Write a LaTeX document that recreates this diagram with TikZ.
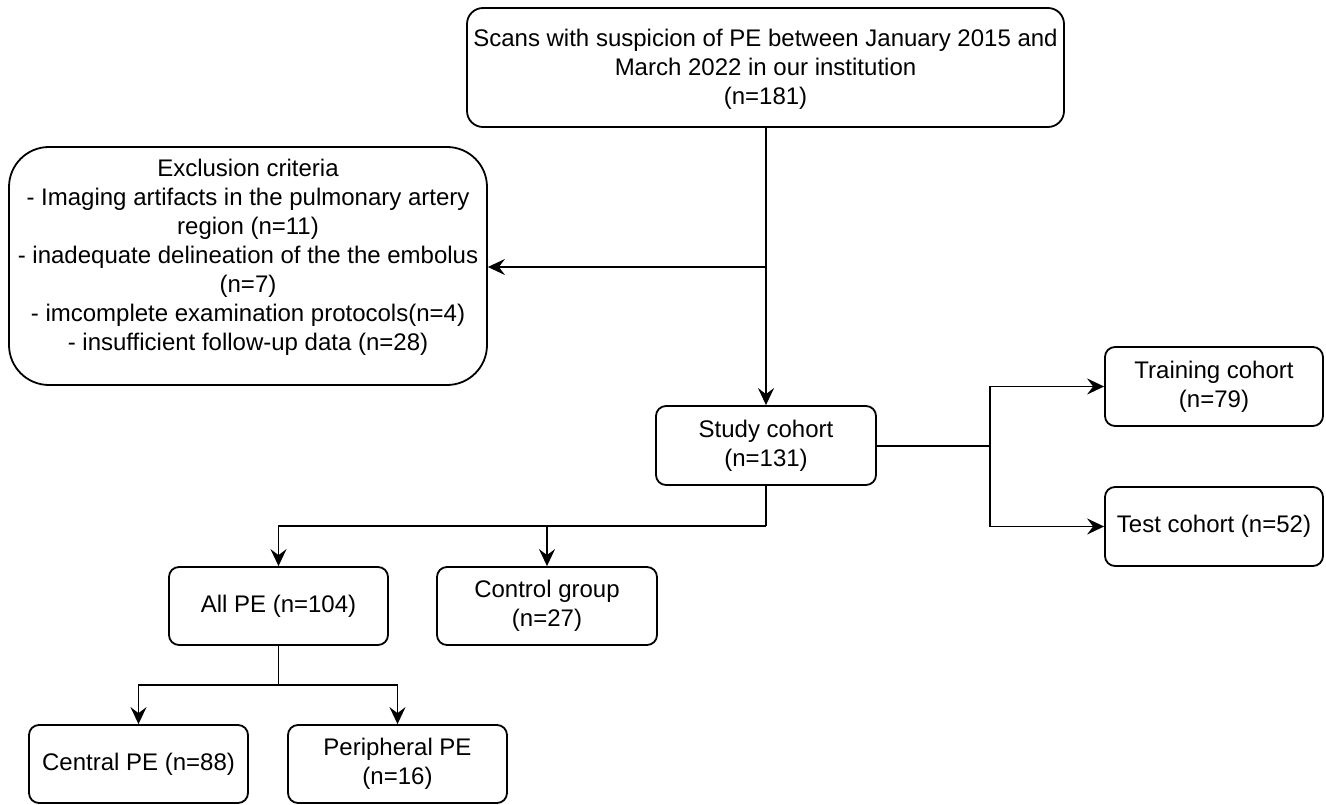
\documentclass[tikz,border=0pt]{standalone}
\usepackage{fontspec}
\setmainfont{Liberation Sans}
\usetikzlibrary{arrows.meta}
\begin{document}
\begin{tikzpicture}[x=1pt,y=-1pt,
  font=\fontsize{24}{29}\selectfont,
  box/.style={draw, line width=1.8pt, rounded corners=10pt, align=center, inner sep=0pt},
  arr/.style={line width=1.8pt, -{Stealth[length=17pt,width=16pt,inset=6pt]}},
  conn/.style={line width=1.8pt}]
\useasboundingbox (0,0) rectangle (1326,805);
\node[box, rounded corners=16pt, minimum width=597pt, minimum height=119pt] (top) at (765.5,67.5)
  {\strut Scans with suspicion of PE between January 2015 and\\March 2022 in our institution\\(n=181)};
\node[box, rounded corners=40pt, minimum width=478pt, minimum height=238pt] (excl) at (248,266) {};
\node[align=center, inner sep=0pt] (excltext) at (248,257)
  {Exclusion criteria\\- Imaging artifacts in the pulmonary artery\\region (n=11)\\- inadequate delineation of the the embolus\\(n=7)\\- imcomplete examination protocols(n=4)\\- insufficient follow-up data (n=28)};
\node[box, minimum width=220pt, minimum height=79pt] (study) at (766,445.5) {Study cohort\\(n=131)};
\node[box, minimum width=218pt, minimum height=79pt] (train) at (1214,386.5) {Training cohort\\(n=79)};
\node[box, minimum width=218pt, minimum height=79pt] (test) at (1214,526.5) {Test cohort (n=52)};
\node[box, minimum width=219pt, minimum height=78pt] (allpe) at (278.5,606) {All PE (n=104)};
\node[box, minimum width=220pt, minimum height=78pt] (control) at (547,606) {Control group\\(n=27)};
\node[box, minimum width=219pt, minimum height=78pt] (central) at (138.5,764) {Central PE (n=88)};
\node[box, minimum width=219pt, minimum height=78pt] (periph) at (397.5,764) {Peripheral PE\\(n=16)};
\coordinate (j1) at (766,267);
\coordinate (jr) at (990,446);
\coordinate (jb) at (766,526);
\coordinate (ja) at (278.5,685);
\draw[arr] (top.south -| study.north) -- (study.north);
\draw[arr] (j1) -- (excl.east |- j1);
\draw[conn] (study.east |- jr) -- (jr);
\draw[arr] (jr) |- (train.west);
\draw[arr] (jr) |- (test.west);
\draw[conn] (study.south) -- (jb);
\draw[arr] (jb) -| (allpe.north);
\draw[arr] (jb) -| (control.north);
\draw[conn] (allpe.south) -- (ja);
\draw[arr] (ja) -| (central.north);
\draw[arr] (ja) -| (periph.north);
\end{tikzpicture}
\end{document}
